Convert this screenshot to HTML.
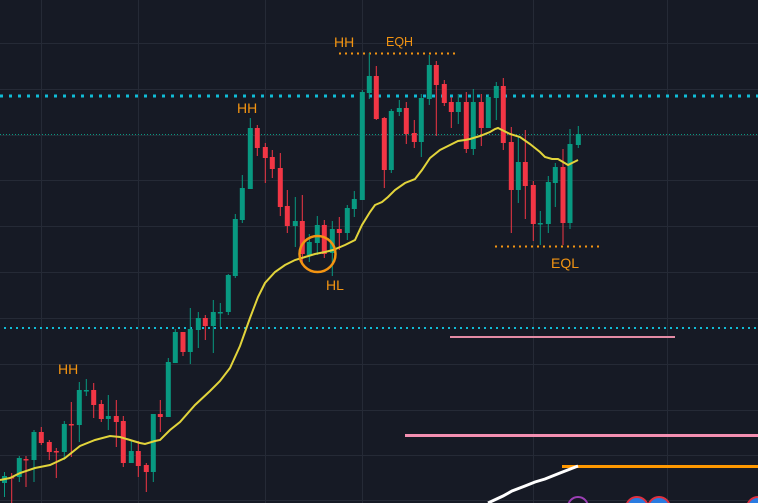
<!DOCTYPE html>
<html><head><meta charset="utf-8"><style>
html,body{margin:0;padding:0;background:#161a25;}
svg{display:block}
text{font-family:"Liberation Sans","DejaVu Sans",sans-serif;fill:#f39412}
</style></head><body>
<svg id="s" width="758" height="503" viewBox="0 0 758 503" xmlns="http://www.w3.org/2000/svg">
<rect width="758" height="503" fill="#161a25"/>
<g stroke="#252a36" stroke-width="1">
<line x1="41.5" y1="0" x2="41.5" y2="503"/><line x1="138.5" y1="0" x2="138.5" y2="503"/>
<line x1="265.5" y1="0" x2="265.5" y2="503"/><line x1="362.5" y1="0" x2="362.5" y2="503"/>
<line x1="533.5" y1="0" x2="533.5" y2="503"/><line x1="667.5" y1="0" x2="667.5" y2="503"/>
<line x1="0" y1="43.5" x2="758" y2="43.5"/><line x1="0" y1="89.5" x2="758" y2="89.5"/>
<line x1="0" y1="135.5" x2="758" y2="135.5"/><line x1="0" y1="180.5" x2="758" y2="180.5"/>
<line x1="0" y1="226.5" x2="758" y2="226.5"/><line x1="0" y1="272.5" x2="758" y2="272.5"/>
<line x1="0" y1="318.5" x2="758" y2="318.5"/><line x1="0" y1="364.5" x2="758" y2="364.5"/>
<line x1="0" y1="410.5" x2="758" y2="410.5"/><line x1="0" y1="455.5" x2="758" y2="455.5"/>
<line x1="0" y1="500.5" x2="758" y2="500.5"/>
</g>
<line x1="0" y1="96" x2="758" y2="96" stroke="#10bcd6" stroke-width="3" stroke-dasharray="3 6"/>
<line x1="4" y1="328" x2="758" y2="328" stroke="#10bcd6" stroke-width="2" stroke-dasharray="2 4"/>
<line x1="0" y1="134.5" x2="758" y2="134.5" stroke="#089981" stroke-width="1" stroke-dasharray="1 2"/>
<line x1="339" y1="53.5" x2="455" y2="53.5" stroke="#f39412" stroke-width="2" stroke-dasharray="2 4"/>
<line x1="495" y1="246.5" x2="600" y2="246.5" stroke="#f39412" stroke-width="2" stroke-dasharray="2 4"/>
<line x1="450" y1="337" x2="675" y2="337" stroke="#e38ba5" stroke-width="2"/>
<line x1="405" y1="435.5" x2="758" y2="435.5" stroke="#f48fb1" stroke-width="3"/>
<line x1="562" y1="466.5" x2="758" y2="466.5" stroke="#ff9800" stroke-width="3"/>
<polyline points="488,503 503,496 512,491 525,486 535,482 545,479 560,473 578,466" fill="none" stroke="#ffffff" stroke-width="3"/>
<circle cx="578" cy="507" r="10" fill="#161a25" stroke="#9c3fb5" stroke-width="2"/>
<circle cx="637" cy="508" r="11" fill="#2a7be0" stroke="#e0303f" stroke-width="2"/>
<circle cx="659" cy="508" r="11" fill="#2a7be0" stroke="#e0303f" stroke-width="2"/>
<circle cx="758" cy="508" r="11" fill="#2a7be0" stroke="#e0303f" stroke-width="2"/>
<g id="c"></g>
<polyline fill="none" stroke="#e2d43b" stroke-width="2" points="0,480 10,478 20,473 35,468 50,465 65,458 80,446 95,440 110,436 120,437 130,440 140,443 145,444 155,441 160,440 170,430 180,422 195,405 210,391 220,381 230,368 240,346 250,318 258,297 265,283 275,272 285,265 295,260 305,257 315,254 325,252 333,250 345,245 355,240 362,225 370,212 375,205 382,202 388,197 395,190 405,183 415,179 422,170 430,158 440,150 450,145 458,141 465,140 470,139 480,136 490,132 495,129 498,128 502,130 510,134 520,137 530,144 540,152 545,157 552,159 558,159 563,162 568,165 572,163 578,160"/>
<circle cx="317.5" cy="254" r="18" fill="none" stroke="#f39412" stroke-width="2.5"/>
<text x="334" y="47" font-size="14">HH</text>
<text x="386" y="46" font-size="12.5">EQH</text>
<text x="237" y="113" font-size="14">HH</text>
<text x="326" y="290" font-size="14">HL</text>
<text x="551" y="268" font-size="14">EQL</text>
<text x="58" y="374" font-size="14">HH</text>
</svg>
<script>
// x, open/close top, bottom, wickTop, wickBot, color g/r
var C=[
[4.5,476,483,472,497,'g'],[11.7,477,477,473,503,'r'],[19.3,458,477,456,482,'g'],[26,459,459,456,487,'r'],
[34,432,460,430,482,'g'],[41.3,432,443,427,445,'r'],[49.3,442,452,440,460,'r'],[56.3,451,451,448,478,'r'],
[64.3,424,452,421,460,'g'],[71.3,424,424,402,457,'r'],[79.3,390,425,382,442,'g'],[86.3,390,390,379,396,'g'],
[93.7,390,405,383,418,'r'],[101.3,404,419,400,422,'r'],[108.3,416,419,395,430,'g'],[116.3,416,422,400,447,'r'],
[123.3,421,463,416,467,'r'],[131.3,451,463,441,463,'g'],[138.3,451,466,441,477,'r'],[146.3,465,472,463,492,'r'],
[153.3,414,472,414,482,'g'],[160.3,414,417,400,432,'r'],[168.3,362,417,358,417,'g'],[175.3,332,363,329,363,'g'],
[183,332,352,332,356,'r'],[190.3,329,352,308,364,'g'],[198.3,318,330,312,348,'g'],[205.3,318,326,315,340,'r'],
[213.3,312,326,300,353,'g'],[220.3,312,312,303,327,'g'],[228.3,275,312,274,315,'g'],[235.3,219,276,214,278,'g'],
[242.3,188,220,175,223,'g'],[250.3,128,189,118,189,'g'],[257.3,128,148,125,156,'r'],[265.3,147,158,143,183,'r'],
[272.3,157,169,150,178,'r'],[280.3,168,207,153,216,'r'],[287.3,206,226,190,233,'r'],[295.3,221,226,197,247,'g'],
[302.3,221,254,195,262,'r'],[309.3,242,255,234,262,'g'],[317.3,225,243,216,255,'g'],[324.3,225,254,220,258,'r'],
[332.3,229,253,221,276,'g'],[339.3,229,233,217,250,'r'],[347.3,208,233,205,240,'g'],[354.3,199,209,191,217,'g'],
[362.3,92,200,90,200,'g'],[369.3,76,93,53,99,'g'],[376.3,76,119,66,120,'r'],[384.3,118,170,117,188,'r'],
[391.3,111,170,109,173,'g'],[399.3,108,112,100,116,'g'],[406.3,108,134,102,144,'r'],[414.3,133,142,120,148,'r'],
[421.3,98,142,94,157,'g'],[429.3,65,99,55,105,'g'],[436.3,65,85,61,136,'r'],[444.3,84,103,80,106,'r'],
[451.3,102,112,97,128,'r'],[458.3,102,112,94,124,'g'],[466.3,102,149,92,153,'r'],[473.3,102,149,89,155,'g'],
[481.3,102,128,94,146,'r'],[488.3,97,128,95,128,'g'],[496.3,86,98,82,120,'g'],[503.3,86,143,78,150,'r'],
[511.3,142,190,127,233,'r'],[518.3,162,190,136,203,'g'],[525.3,162,186,130,219,'r'],[533.3,185,224,181,241,'r'],
[540.3,223,223,211,245,'g'],[548.3,182,224,176,233,'g'],[555.3,167,183,163,207,'g'],[563,167,223,149,245,'r'],
[570,144,223,129,229,'g'],[578.3,134,145,126,148,'g']];
var g=document.getElementById('c'),h='';
C.forEach(function(c){var col=c[5]=='g'?'#089981':'#f23645';var x=c[0];
h+='<line x1="'+x+'" y1="'+c[3]+'" x2="'+x+'" y2="'+c[4]+'" stroke="'+col+'" stroke-width="1"/>';
var bh=Math.max(1.5,c[2]-c[1]);
h+='<rect x="'+(x-2.5)+'" y="'+c[1]+'" width="5" height="'+bh+'" fill="'+col+'"/>';});
g.innerHTML=h;
</script>
</body></html>
